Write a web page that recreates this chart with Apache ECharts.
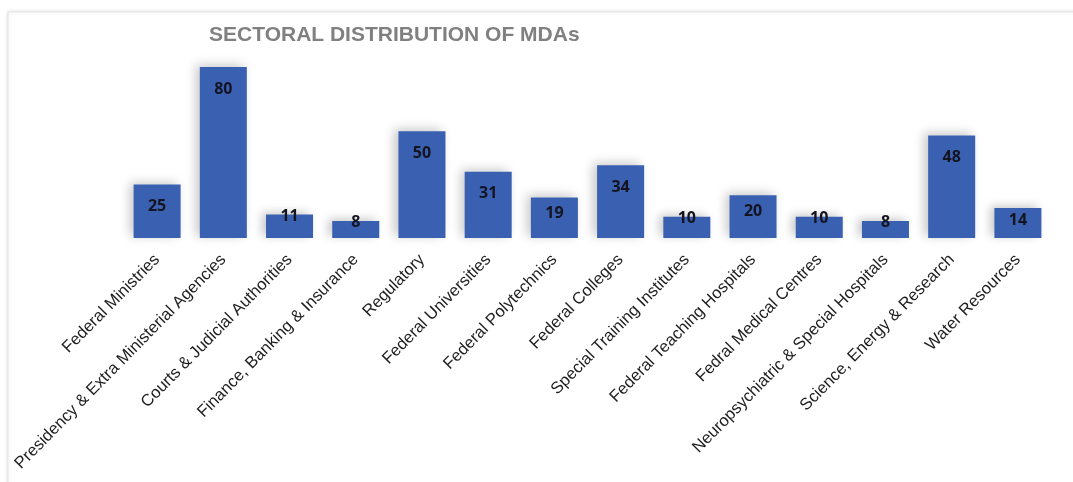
<!DOCTYPE html>
<html>
<head>
<meta charset="utf-8">
<script src="https://cdn.jsdelivr.net/npm/echarts@6/dist/echarts.min.js"></script>
<style>
  html, body { margin: 0; padding: 0; background: #ffffff; }
  #chart { width: 1073px; height: 482px; }
</style>
</head>
<body>
<div id="chart"></div>
<script>
// Sectors and number of MDAs in each
const categories = [
  'Federal Ministries',
  'Presidency & Extra Ministerial Agencies',
  'Courts & Judicial Authorities',
  'Finance, Banking & Insurance',
  'Regulatory',
  'Federal Universities',
  'Federal Polytechnics',
  'Federal Colleges',
  'Special Training Institutes',
  'Federal Teaching Hospitals',
  'Fedral Medical Centres',
  'Neuropsychiatric & Special Hospitals',
  'Science, Energy & Research',
  'Water Resources'
];
const mdaCounts = [25, 80, 11, 8, 50, 31, 19, 34, 10, 20, 10, 8, 48, 14];
const titleText = 'SECTORAL DISTRIBUTION OF MDAs';

const chart = echarts.init(document.getElementById('chart'), null, { renderer: 'canvas' });

// Value labels sit inside the top of the bar; on shorter bars they
// move up toward (or across) the top edge
function labelDistance(v) {
  if (v >= 25) return 14;
  if (v >= 19) return 8;
  if (v >= 14) return 4;
  return -6;
}
const barData = mdaCounts.map(v => ({
  value: v,
  label: { distance: labelDistance(v) }
}));

chart.setOption({
  backgroundColor: '#ffffff',
  animation: false,
  graphic: [{
    type: 'rect',
    shape: { x: 8, y: 12, width: 1100, height: 500 },
    style: {
      fill: '#ffffff',
      stroke: '#e4e4e4',
      lineWidth: 1,
      shadowBlur: 4,
      shadowColor: 'rgba(0,0,0,0.12)'
    },
    z: -10
  }],
  title: {
    text: titleText,
    left: 204,
    top: 20,
    textStyle: {
      fontFamily: 'Liberation Sans, Arial, sans-serif',
      fontWeight: 'bold',
      fontSize: 21,
      color: '#808080'
    }
  },
  grid: { left: 124, right: 22, top: 67, bottom: 244, containLabel: false },
  xAxis: {
    type: 'category',
    data: categories,
    axisLine: { show: false },
    axisTick: { show: false },
    axisLabel: {
      interval: 0,
      rotate: 45.5,
      margin: 19,
      fontFamily: 'Liberation Sans, Arial, sans-serif',
      fontSize: 16.6,
      color: '#1e1e1e'
    }
  },
  yAxis: {
    type: 'value',
    min: 0,
    max: 80,
    show: false,
    splitLine: { show: false }
  },
  series: [{
    type: 'bar',
    data: barData,
    barCategoryGap: '29%',
    itemStyle: {
      color: '#3a60b1',
      shadowBlur: 10,
      shadowColor: 'rgba(0,0,0,0.22)',
      shadowOffsetX: -4,
      shadowOffsetY: -2
    },
    label: {
      show: true,
      position: 'insideTop',
      fontFamily: 'Open Sans, Liberation Sans, sans-serif',
      fontWeight: 'bold',
      fontSize: 16,
      color: '#141420'
    }
  }]
});
</script>
</body>
</html>
